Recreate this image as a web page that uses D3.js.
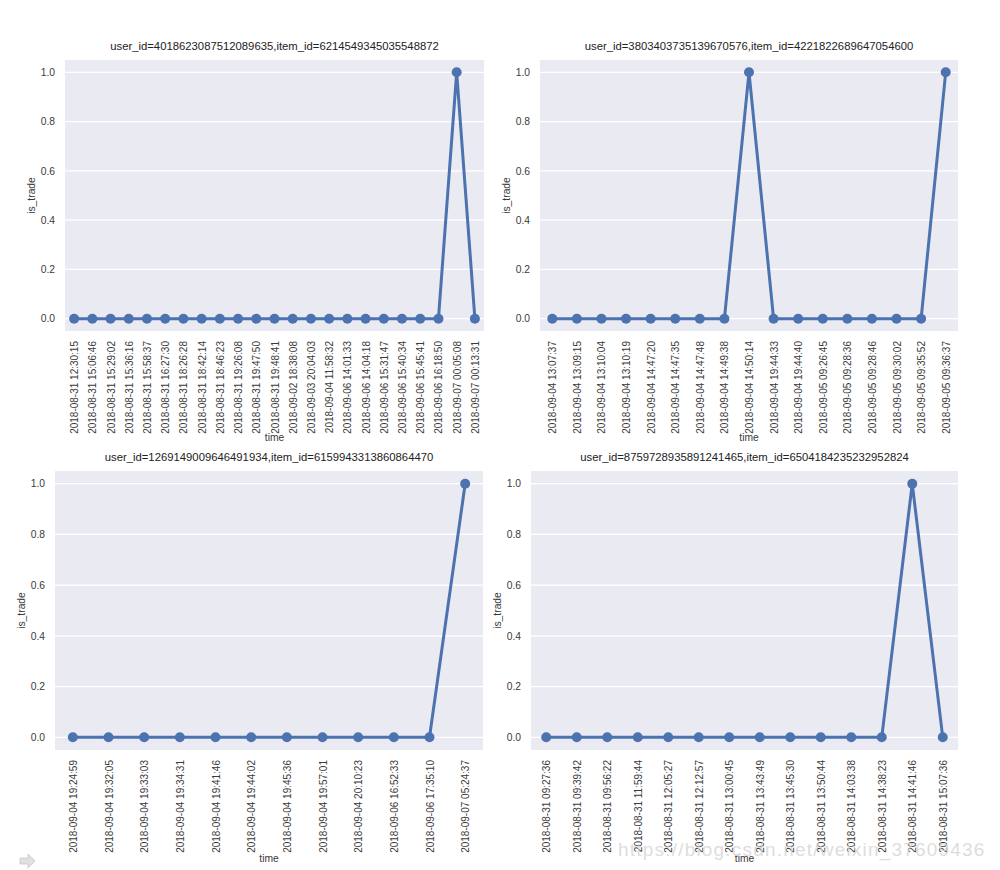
<!DOCTYPE html>
<html><head><meta charset="utf-8">
<script src="https://d3js.org/d3.v7.min.js"></script>
<style>
body{margin:0;background:#fff;}
text{font-family:"Liberation Sans",Arial,sans-serif;}
</style></head>
<body><svg id="c" width="1000" height="870"></svg>
<script>
const title1 = "user_id=4018623087512089635,item_id=6214549345035548872";
const times1 = ["2018-08-31 12:30:15","2018-08-31 15:06:46","2018-08-31 15:29:02","2018-08-31 15:36:16","2018-08-31 15:58:37","2018-08-31 16:27:30","2018-08-31 18:26:28","2018-08-31 18:42:14","2018-08-31 18:46:23","2018-08-31 19:26:08","2018-08-31 19:47:50","2018-08-31 19:48:41","2018-09-02 18:38:08","2018-09-03 20:04:03","2018-09-04 11:58:32","2018-09-06 14:01:33","2018-09-06 14:04:18","2018-09-06 15:31:47","2018-09-06 15:40:34","2018-09-06 15:45:41","2018-09-06 16:18:50","2018-09-07 00:05:08","2018-09-07 00:13:31"];
const trade1 = [0,0,0,0,0,0,0,0,0,0,0,0,0,0,0,0,0,0,0,0,0,1,0];

const title2 = "user_id=3803403735139670576,item_id=4221822689647054600";
const times2 = ["2018-09-04 13:07:37","2018-09-04 13:09:15","2018-09-04 13:10:04","2018-09-04 13:10:19","2018-09-04 14:47:20","2018-09-04 14:47:35","2018-09-04 14:47:48","2018-09-04 14:49:38","2018-09-04 14:50:14","2018-09-04 19:44:33","2018-09-04 19:44:40","2018-09-05 09:26:45","2018-09-05 09:28:36","2018-09-05 09:28:46","2018-09-05 09:30:02","2018-09-05 09:35:52","2018-09-05 09:36:37"];
const trade2 = [0,0,0,0,0,0,0,0,1,0,0,0,0,0,0,0,1];

const title3 = "user_id=1269149009646491934,item_id=6159943313860864470";
const times3 = ["2018-09-04 19:24:59","2018-09-04 19:32:05","2018-09-04 19:33:03","2018-09-04 19:34:31","2018-09-04 19:41:46","2018-09-04 19:44:02","2018-09-04 19:45:36","2018-09-04 19:57:01","2018-09-04 20:10:23","2018-09-06 16:52:33","2018-09-06 17:35:10","2018-09-07 05:24:37"];
const trade3 = [0,0,0,0,0,0,0,0,0,0,0,1];

const title4 = "user_id=8759728935891241465,item_id=6504184235232952824";
const times4 = ["2018-08-31 09:27:36","2018-08-31 09:39:42","2018-08-31 09:56:22","2018-08-31 11:59:44","2018-08-31 12:05:27","2018-08-31 12:12:57","2018-08-31 13:00:45","2018-08-31 13:43:49","2018-08-31 13:45:30","2018-08-31 13:50:44","2018-08-31 14:03:38","2018-08-31 14:38:23","2018-08-31 14:41:46","2018-08-31 15:07:36"];
const trade4 = [0,0,0,0,0,0,0,0,0,0,0,0,1,0];

const yTicks = [0,0.2,0.4,0.6,0.8,1.0];

const svg = d3.select("#c");
const blue = "#4c72b0";
const txt = "#3a3a3a";

function panel(title, times, vals, box) {
  const g = svg.append("g");
  const x = d3.scalePoint().domain(times).range([box.x0, box.x1]).padding(0.5);
  const y = d3.scaleLinear().domain([-0.05, 1.05]).range([box.y1, box.y0]);
  g.append("rect").attr("x", box.x0).attr("y", box.y0)
    .attr("width", box.x1 - box.x0).attr("height", box.y1 - box.y0).attr("fill", "#eaeaf2");
  g.selectAll("line.grid").data(yTicks).join("line")
    .attr("x1", box.x0).attr("x2", box.x1)
    .attr("y1", d => y(d)).attr("y2", d => y(d))
    .attr("stroke", "#fff").attr("stroke-width", 1.2);
  const ya = g.append("g").attr("transform", `translate(${box.x0},0)`)
    .call(d3.axisLeft(y).tickValues(yTicks).tickFormat(d3.format(".1f")).tickSize(0).tickPadding(10));
  ya.select(".domain").remove();
  ya.selectAll("text").attr("fill", txt).attr("font-size", 10.3);
  const xa = g.append("g").attr("transform", `translate(0,${box.y1})`)
    .call(d3.axisBottom(x).tickSize(0).tickPadding(8));
  xa.select(".domain").remove();
  xa.selectAll("text").attr("fill", txt).attr("font-size", 10)
    .attr("transform", "rotate(-90)").attr("text-anchor", "end")
    .attr("x", -10).attr("y", 0).attr("dy", "0.35em");
  const data = times.map((t, i) => [t, vals[i]]);
  g.append("path").datum(data)
    .attr("d", d3.line().x(d => x(d[0])).y(d => y(d[1])))
    .attr("fill", "none").attr("stroke", blue).attr("stroke-width", 3);
  g.selectAll("circle").data(data).join("circle")
    .attr("cx", d => x(d[0])).attr("cy", d => y(d[1])).attr("r", 5).attr("fill", blue);
  g.append("text").attr("x", (box.x0 + box.x1) / 2).attr("y", box.y0 - 10)
    .attr("text-anchor", "middle").attr("font-size", 11.3).attr("fill", "#222").text(title);
  g.append("text").attr("x", (box.x0 + box.x1) / 2).attr("y", box.labelY)
    .attr("text-anchor", "middle").attr("font-size", 10.3).attr("fill", txt).text("time");
  g.append("text").attr("transform", `translate(${box.x0 - 30},${(box.y0 + box.y1) / 2}) rotate(-90)`)
    .attr("text-anchor", "middle").attr("font-size", 10.3).attr("fill", txt).text("is_trade");
}

panel(title1, times1, trade1, {x0: 65, x1: 484, y0: 60, y1: 331, labelY: 441});
panel(title2, times2, trade2, {x0: 540, x1: 958, y0: 60, y1: 331, labelY: 441});
panel(title3, times3, trade3, {x0: 55, x1: 483, y0: 471, y1: 750, labelY: 862});
panel(title4, times4, trade4, {x0: 531, x1: 958, y0: 471, y1: 750, labelY: 862});

// small arrow icon at bottom-left
svg.append("path")
  .attr("d", "M20,858 L28,858 L28,854 L35,861 L28,868 L28,864 L20,864 Z")
  .attr("fill", "#e0e0e0").attr("stroke", "#c8c8c8").attr("stroke-width", 0.8);

svg.append("text").attr("x", 618).attr("y", 856)
  .attr("font-family", "Liberation Serif, serif").attr("font-size", 19)
  .attr("fill", "#d4d4d4").attr("fill-opacity", 0.8).attr("letter-spacing", 1.2)
  .text("https://blog.csdn.net/weixin_37609436");
</script></body></html>
